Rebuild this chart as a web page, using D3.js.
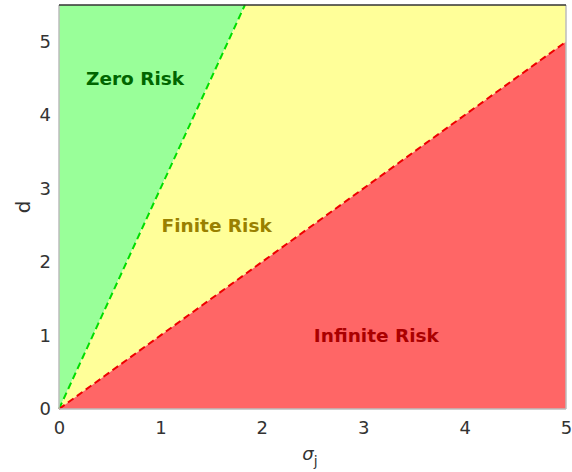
<!DOCTYPE html>
<html><head><meta charset="utf-8">
<script src="https://cdn.jsdelivr.net/npm/d3@7"></script>
<style>body{margin:0;background:#fff}</style>
</head><body>
<svg id="c" width="572" height="472"></svg>
<script>
const xDomain = [0, 5];
const yDomain = [0, 5.5];
const xTicks = [0, 1, 2, 3, 4, 5];
const yTicks = [0, 1, 2, 3, 4, 5];
// boundary slopes: d = k * sigma
const zeroSlope = 3;
const infSlope = 1;
const regionLabels = ["Zero Risk", "Finite Risk", "Infinite Risk"];
const labelX = [0.75, 1.555, 3.13];
const labelY = [4.5, 2.5, 1.0];

const svg = d3.select("#c");
const L = 59, R = 566, T = 5, B = 409;
const x = d3.scaleLinear().domain(xDomain).range([L, R]);
const y = d3.scaleLinear().domain(yDomain).range([B, T]);
const xmax = xDomain[1], ymax = yDomain[1];

const line = d3.line().x(d => x(d[0])).y(d => y(d[1]));
// regions
const greenPts = [[0,0],[ymax/zeroSlope, ymax],[0, ymax]];
const yellowPts = [[0,0],[xmax, xmax*infSlope],[xmax, ymax],[ymax/zeroSlope, ymax]];
const redPts = [[0,0],[xmax,0],[xmax, xmax*infSlope]];
svg.append("path").attr("d", line(greenPts)+"Z").attr("fill","#99ff99");
svg.append("path").attr("d", line(yellowPts)+"Z").attr("fill","#ffff99");
svg.append("path").attr("d", line(redPts)+"Z").attr("fill","#ff6666");

// boundaries
svg.append("path").attr("d", line([[0,0],[ymax/zeroSlope, ymax]]))
  .attr("stroke","#00dd00").attr("stroke-width",2).attr("stroke-dasharray","7,4").attr("fill","none");
svg.append("path").attr("d", line([[0,0],[xmax, xmax*infSlope]]))
  .attr("stroke","#ee0000").attr("stroke-width",2).attr("stroke-dasharray","7,4").attr("fill","none");

// axes
const xAxis = d3.axisBottom(x).tickValues(xTicks).tickSize(0).tickPadding(12).tickFormat(d3.format("d"));
const yAxis = d3.axisLeft(y).tickValues(yTicks).tickSize(0).tickPadding(8).tickFormat(d3.format("d"));
const gx = svg.append("g").attr("transform",`translate(0,${B})`).call(xAxis);
const gy = svg.append("g").attr("transform",`translate(${L},0)`).call(yAxis);
[gx, gy].forEach(g => {
  g.select(".domain").remove();
  g.selectAll("text").attr("font-family","DejaVu Sans").attr("font-size",18).attr("fill","#333");
});
// frame
svg.append("line").attr("x1",L).attr("x2",R).attr("y1",B).attr("y2",B).attr("stroke","#bdbdbd").attr("stroke-width",1.5);
svg.append("line").attr("x1",L).attr("x2",L).attr("y1",T).attr("y2",B).attr("stroke","#bdbdbd").attr("stroke-width",1.5);
svg.append("line").attr("x1",R).attr("x2",R).attr("y1",T).attr("y2",B).attr("stroke","#bdbdbd").attr("stroke-width",1.5);
svg.append("line").attr("x1",L).attr("x2",R).attr("y1",T).attr("y2",T).attr("stroke","#333").attr("stroke-width",1.5);

// labels
const labelColors = ["#006600", "#998000", "#aa0000"];
regionLabels.forEach((t,i) => {
  svg.append("text").attr("x", x(labelX[i])).attr("y", y(labelY[i])).attr("dy","0.35em")
    .attr("text-anchor","middle").attr("font-family","DejaVu Sans").attr("font-weight","bold")
    .attr("font-size",18.5).attr("fill",labelColors[i]).text(t);
});

// axis titles
svg.append("text").attr("transform",`translate(30,${(T+B)/2}) rotate(-90)`).attr("text-anchor","middle")
  .attr("font-family","DejaVu Sans").attr("font-size",20).attr("fill","#333").text("d");
const xt = svg.append("text").attr("x",310).attr("y",460).attr("text-anchor","middle")
  .attr("font-family","DejaVu Sans").attr("font-size",18).attr("fill","#333");
xt.append("tspan").attr("font-style","italic").text("σ");
xt.append("tspan").attr("font-size",14).attr("dy",6).text("j");
</script>
</body></html>
